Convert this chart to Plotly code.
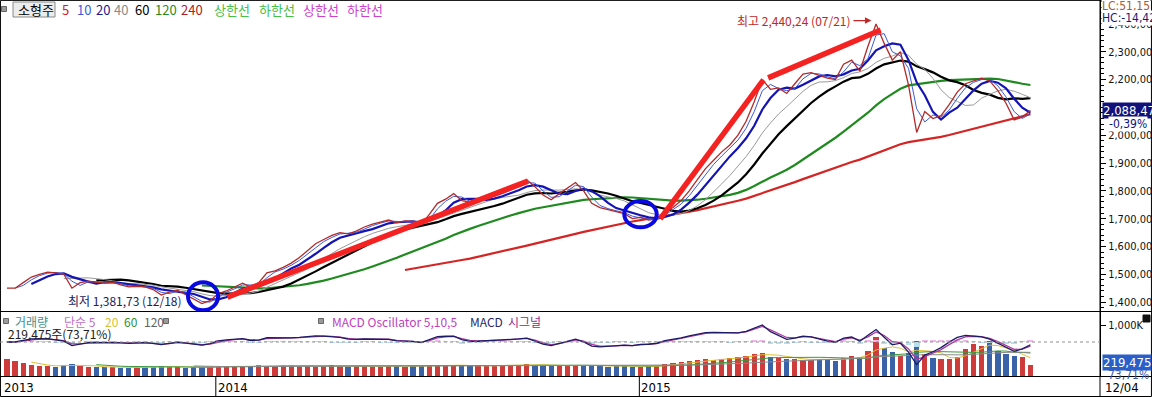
import pandas as pd
import numpy as np
import plotly.graph_objects as go

# ---------------- data (weekly) ----------------
dates = pd.date_range("2013-07-05", periods=127, freq="7D")
close = [1450, 1450, 1470, 1490, 1500, 1508, 1505, 1500, 1450, 1470,
         1475, 1472, 1468, 1472, 1462, 1455, 1457, 1455, 1445, 1425,
         1436, 1443, 1428, 1410, 1395, 1405, 1430, 1440, 1455, 1468,
         1455, 1470, 1505, 1512, 1525, 1540, 1560, 1585, 1610, 1625,
         1640, 1650, 1645, 1655, 1670, 1680, 1688, 1695, 1685, 1692,
         1690, 1678, 1715, 1755, 1770, 1790, 1765, 1760, 1768, 1775,
         1785, 1795, 1808, 1820, 1840, 1815, 1785, 1768, 1790, 1810,
         1830, 1800, 1755, 1740, 1732, 1725, 1718, 1700, 1705, 1695,
         1700, 1725, 1740, 1765, 1800, 1840, 1880, 1910, 1940, 1965,
         2000, 2050, 2120, 2200, 2165, 2170, 2150, 2185, 2220, 2225,
         2215, 2205, 2200, 2255, 2270, 2230, 2320, 2400, 2330, 2270,
         2300, 2180, 2010, 2085, 2060, 2070, 2110, 2155, 2185, 2195,
         2205, 2195, 2160, 2115, 2055, 2065, 2088.4]
volume_k = [330, 290, 250, 220,
            200, 190, 185, 210, 240, 195, 185, 175, 170,
            170, 160, 165, 170, 175, 185, 195, 180, 170, 160, 170, 185,
            175, 195, 200, 185, 175, 195, 210, 200, 195, 210, 215, 200,
            195, 185, 200, 210, 195, 185, 200, 195, 185, 175, 195, 200, 185, 195, 200, 215,
            225, 215, 210, 200, 195, 200, 210, 200, 210, 215, 225, 235,
            215, 210, 200, 195, 210, 215, 210, 200, 195, 185, 200, 195, 185, 175, 195, 200,
            240, 250, 270, 290, 310, 330, 320, 340, 360, 380, 400, 430,
            460, 380, 360, 330, 340, 320, 310, 330, 320, 300, 360, 400, 380,
            500, 760, 540, 480, 400, 460, 680,
            430, 360, 340, 330, 380, 530, 630, 580,
            680, 500, 430, 400, 380, 219.475]

price_ticks = [1400, 1500, 1600, 1700, 1800, 1900, 2000, 2100, 2200, 2300, 2400]
price_ticktext = ["1,400,00", "1,500,00", "1,600,00", "1,700,00", "1,800,00", "1,900,00",
                  "2,000,00", "2,100,00", "2,200,00", "2,300,00", "2,400,00"]

ma_names = ["10", "20", "40", "60", "120", "240"]
ma_weeks = [2, 4, 8, 12, 25, 50]
ma_colors = ["#3a5ad8", "#1414b4", "#9a9a9a", "#000000", "#1f8a1f", "#d42424"]
ma_widths = [1, 2.2, 1, 2.2, 2.2, 2.2]

# ---------------- derived ----------------
s_close = pd.Series(close, index=dates)
s_vol = pd.Series(volume_k, index=dates) * 1000
ema_f = s_close.ewm(span=2, adjust=False).mean()
ema_s = s_close.ewm(span=4, adjust=False).mean()
macd = ema_f - ema_s
signal = macd.ewm(span=2, adjust=False).mean()
osc = macd - signal

fig = go.Figure()

for k in [5, 4, 3, 2, 1, 0]:
    ma = s_close.rolling(ma_weeks[k]).mean()
    fig.add_trace(go.Scatter(x=dates, y=ma, mode="lines",
                             line=dict(color=ma_colors[k], width=ma_widths[k]),
                             xaxis="x", yaxis="y", hoverinfo="skip"))
fig.add_trace(go.Scatter(x=dates, y=close, mode="lines",
                         line=dict(color="#b22a2a", width=1.3),
                         xaxis="x", yaxis="y"))

# volume panel
up = [True] + [close[i] >= close[i - 1] for i in range(1, len(close))]
vcolors = ["#cf3a3a" if u else "#3a62a8" for u in up]
fig.add_trace(go.Bar(x=dates, y=s_vol, marker=dict(color=vcolors, line=dict(width=0)),
                     width=4.5 * 86400000, xaxis="x2", yaxis="y2"))
for w, c in [(4, "#e0c030"), (12, "#3a9a3a"), (24, "#8a8a8a")]:
    fig.add_trace(go.Scatter(x=dates, y=s_vol.rolling(w).mean(), mode="lines",
                             line=dict(color=c, width=1), xaxis="x2", yaxis="y2"))

# MACD overlay
ocol = ["#f2b6ee" if v >= 0 else "#b6e0ee" for v in osc]
fig.add_trace(go.Bar(x=dates, y=osc, marker=dict(color=ocol, line=dict(width=0)),
                     width=5 * 86400000, xaxis="x2", yaxis="y3"))
fig.add_trace(go.Scatter(x=dates, y=signal, mode="lines", line=dict(color="#b03aa0", width=1.3),
                         xaxis="x2", yaxis="y3"))
fig.add_trace(go.Scatter(x=dates, y=macd, mode="lines", line=dict(color="#1c1c66", width=1.3),
                         xaxis="x2", yaxis="y3"))

pos_max = float(max(macd.max(), 1e-6))
neg_max = float(max(-macd.min(), 1e-6))
span = max(pos_max / (17 / 64), neg_max / (28 / 64))
lo = -span * (34 / 64)
hi = lo + span

# ---------------- layout ----------------
W, H = 1152, 397
PW, PH = 1100, 376
def px(x):
    return x / PW
def py(y):
    return 1 - y / PH

xr = ["2013-06-29", "2016-02-02"]
NUMF = "Liberation Sans Narrow, DejaVu Sans Condensed, Liberation Sans, sans-serif"
num_font = dict(family=NUMF, size=11, color="#111111")
kr = "Noto Sans CJK KR, sans-serif"

fig.update_layout(
    width=W, height=H, margin=dict(l=0, r=52, t=0, b=21),
    paper_bgcolor="white", plot_bgcolor="white", showlegend=False, bargap=0,
    xaxis=dict(domain=[0, 1], range=xr, anchor="y", showticklabels=False, showgrid=False,
               zeroline=False, ticks=""),
    yaxis=dict(domain=[py(311), 1], range=[1368, 2486], side="right", anchor="x",
               tickvals=price_ticks, ticktext=price_ticktext, ticks="outside", ticklen=5,
               tickcolor="#000", showline=True, linecolor="#000", showgrid=False, zeroline=False,
               tickfont=num_font, automargin=False, ticklabelstandoff=0,
               minor=dict(dtick=20, ticklen=3, ticks="outside", tickcolor="#000", showgrid=False)),
    xaxis2=dict(domain=[0, 1], range=xr, anchor="y2", showticklabels=False, showgrid=False,
                zeroline=False, ticks=""),
    yaxis2=dict(domain=[0, py(312)], range=[0, 1255000], side="right", anchor="x2",
                tickvals=[1000000], ticktext=["1,000K"], ticks="outside", ticklen=5,
                tickcolor="#000", showline=True, linecolor="#000", showgrid=False, zeroline=False,
                tickfont=num_font, automargin=False, ticklabelstandoff=0),
    yaxis3=dict(overlaying="y2", range=[lo, hi], visible=False, side="right", anchor="x2"),
)

shapes = []
shapes.append(dict(type="rect", xref="paper", yref="paper", x0=0.0004, x1=W / PW - 0.0005,
                   y0=-20.5 / PH, y1=0.999, line=dict(color="#000", width=1)))
for yy in [311.5, 376.5]:
    shapes.append(dict(type="line", xref="paper", yref="paper", x0=0, x1=W / PW,
                       y0=py(yy), y1=py(yy), line=dict(color="#000", width=1)))
shapes.append(dict(type="line", xref="paper", yref="paper", x0=1, x1=1, y0=-21 / PH, y1=1,
                   line=dict(color="#000", width=1)))
for d in ["2014-01-01", "2015-01-01"]:
    shapes.append(dict(type="line", xref="x2", yref="paper", x0=d, x1=d, y0=-21 / PH, y1=py(376.5),
                       line=dict(color="#000", width=1)))
shapes.append(dict(type="line", xref="paper", yref="y3", x0=0, x1=1, y0=0, y1=0,
                   line=dict(color="#909090", width=1, dash="dot")))
for (a, va, b, vb) in [("2014-01-11", 1418, "2014-09-27", 1835),
                       ("2015-01-19", 1699, "2015-04-18", 2199),
                       ("2015-04-22", 2206, "2015-07-28", 2378)]:
    shapes.append(dict(type="line", xref="x", yref="y", x0=a, x1=b, y0=va, y1=vb,
                       line=dict(color="#f52222", width=5.5)))
for (a, b, v0, v1) in [("2013-12-08", "2014-01-03", 1371, 1471),
                       ("2014-12-19", "2015-01-16", 1669, 1763)]:
    shapes.append(dict(type="circle", xref="x", yref="y", x0=a, x1=b, y0=v0, y1=v1,
                       line=dict(color="#0a0ae0", width=4)))
shapes.append(dict(type="rect", xref="paper", yref="paper", x0=px(13), x1=px(55), y0=py(17), y1=py(2),
                   fillcolor="#ececec", line=dict(color="#8a8a8a", width=1)))
for (xx, yy) in [(4, 9), (6, 321), (166, 321), (321, 321)]:
    shapes.append(dict(type="rect", xref="paper", yref="paper", x0=px(xx - 2.5), x1=px(xx + 2.5),
                       y0=py(yy + 2.5), y1=py(yy - 2.5), fillcolor="#9a9a9a",
                       line=dict(color="#666", width=1)))
shapes.append(dict(type="rect", xref="paper", yref="paper", x0=px(1143), x1=px(1150), y0=py(322), y1=py(315),
                   fillcolor="#111", line=dict(color="#111", width=1)))
fig.update_layout(shapes=shapes)

ann = []
def txt(x, y, t, color, size=12, family=kr, xanchor="left", **kw):
    ann.append(dict(xref="paper", yref="paper", x=px(x), y=py(y), text=t, showarrow=False,
                    xanchor=xanchor, yanchor="middle",
                    font=dict(family=family, size=size, color=color), **kw))

legend_items = [("소형주", "#000000", 16), ("5", "#d02020", 60), ("10", "#3a5ad8", 75),
                ("20", "#1a1a90", 94), ("40", "#8a8a8a", 112), ("60", "#000000", 133),
                ("120", "#1f8a1f", 153), ("240", "#b02020", 179), ("상한선", "#44c044", 212),
                ("하한선", "#44c044", 257), ("상한선", "#d040d0", 301), ("하한선", "#d040d0", 345)]
for t, c, x in legend_items:
    txt(x, 9.5, t, c, size=13)

vol_items = [("거래량", "#3f9090", 13), ("단순 5", "#c070c8", 62), ("20", "#d8c030", 103),
             ("60", "#2f8f2f", 122), ("120", "#606060", 142),
             ("MACD Oscillator 5,10,5", "#c040c0", 330), ("MACD", "#28286a", 468),
             ("시그널", "#902890", 506)]
for t, c, x in vol_items:
    txt(x, 321, t, c, size=12)
txt(6, 333, "219,475주(73,71%)", "#202020", size=12)

txt(66, 300, "최저 1,381,73 (12/18)", "#20205e", size=12)
ann.append(dict(xref="x", yref="y", x="2015-07-20", y=2412, ax=-18, ay=0, text="최고 2,440,24 (07/21)",
                showarrow=True, arrowhead=2, arrowsize=1, arrowwidth=1.3, arrowcolor="#c02828",
                xanchor="right", font=dict(family=kr, size=12, color="#c02828")))

txt(2, 387, "2013", "#000", size=13, family=NUMF)
for d, t in [("2014-01-01", "2014"), ("2015-01-01", "2015")]:
    ann.append(dict(xref="x2", yref="paper", x=d, y=py(387), text=t, showarrow=False,
                    xanchor="left", yanchor="middle", xshift=0,
                    font=dict(family=NUMF, size=13, color="#000")))
txt(1103, 387, "12/04", "#000", size=13, family=NUMF)

txt(1101, 6, "LC:51,15", "#a0603a", size=12, family=NUMF, bgcolor="white", borderpad=0)
txt(1101, 18, "HC:-14,42", "#1a1a70", size=12, family=NUMF, bgcolor="white", borderpad=0)
ann.append(dict(xref="paper", yref="y", x=px(1102), y=close[-1], text="2,088,47", showarrow=False,
                xanchor="left", yanchor="middle", bgcolor="#12127a", borderpad=0,
                font=dict(family=NUMF, size=13, color="white")))
ann.append(dict(xref="paper", yref="y", x=px(1108), y=close[-1], yshift=-13, text="-0,39%",
                showarrow=False, xanchor="left", yanchor="middle", bgcolor="white", borderpad=0,
                font=dict(family=NUMF, size=12, color="#12127a")))
ann.append(dict(xref="paper", yref="y2", x=px(1102), y=volume_k[-1] * 1000, yshift=2, text="219,475",
                showarrow=False, xanchor="left", yanchor="middle", bgcolor="#2a5fc8", borderpad=0,
                font=dict(family=NUMF, size=13, color="white")))
ann.append(dict(xref="paper", yref="y2", x=px(1106), y=volume_k[-1] * 1000, yshift=-10, text="73,71%",
                showarrow=False, xanchor="left", yanchor="middle",
                font=dict(family=NUMF, size=12, color="#3a5ab0")))
fig.update_layout(annotations=ann)

fig.write_html("out.html", config={"displayModeBar": False},
               post_script="document.body.style.margin='0';document.body.style.overflow='hidden';")
